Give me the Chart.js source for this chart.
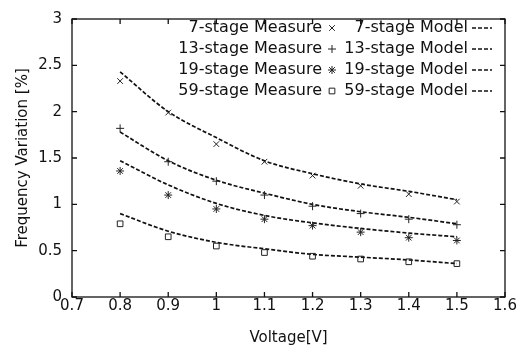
<!DOCTYPE html>
<html>
<head>
<meta charset="utf-8">
<script src="https://cdn.jsdelivr.net/npm/chart.js@4.4.0/dist/chart.umd.min.js"></script>
<style>
  html, body { margin: 0; padding: 0; background: #fff; }
  #wrap { width: 523px; height: 351px; }
</style>
</head>
<body>
<div id="wrap"><canvas id="myChart" width="523" height="351"></canvas></div>
<script>
var voltage = [0.8, 0.9, 1.0, 1.1, 1.2, 1.3, 1.4, 1.5];
var stages = ['7-stage', '13-stage', '19-stage', '59-stage'];
var markers = ['crossRot', 'cross', 'star', 'rect'];

var measure7 = [2.33, 1.99, 1.65, 1.46, 1.31, 1.20, 1.11, 1.03];
var model7 = [2.43, 2.00, 1.72, 1.47, 1.33, 1.22, 1.14, 1.05];
var measure13 = [1.82, 1.46, 1.25, 1.10, 0.98, 0.90, 0.84, 0.78];
var model13 = [1.78, 1.47, 1.26, 1.12, 1.00, 0.92, 0.86, 0.79];
var measure19 = [1.36, 1.10, 0.95, 0.84, 0.77, 0.70, 0.64, 0.61];
var model19 = [1.47, 1.21, 1.01, 0.88, 0.80, 0.74, 0.69, 0.65];
var measure59 = [0.79, 0.65, 0.55, 0.48, 0.44, 0.41, 0.38, 0.36];
var model59 = [0.90, 0.71, 0.59, 0.52, 0.46, 0.43, 0.40, 0.36];

var measures = [measure7, measure13, measure19, measure59];
var models = [model7, model13, model19, model59];

function toXY(vals) {
    return vals.map(function (v, i) { return { x: voltage[i], y: v }; });
}

var datasets = [];
for (var i = 0; i < stages.length; i++) {
    datasets.push({
        label: stages[i] + ' Measure',
        data: toXY(measures[i]),
        showLine: false,
        pointStyle: markers[i],
        pointRadius: 4,
        borderColor: '#222',
        backgroundColor: 'rgba(0,0,0,0)',
        borderWidth: 1
    });
    datasets.push({
        label: stages[i] + ' Model',
        data: toXY(models[i]),
        showLine: true,
        pointRadius: 0,
        borderColor: '#111',
        borderWidth: 1.7,
        borderDash: [4, 2],
        tension: 0.4,
        cubicInterpolationMode: 'monotone',
        fill: false
    });
}

var FONT = '"DejaVu Sans", Verdana, sans-serif';

function fmt(v) {
    return String(Math.round(v * 10) / 10);
}

var frame = {
    id: 'frame',
    afterDraw: function (chart) {
        var ctx = chart.ctx, a = chart.chartArea;
        var xs = chart.scales.x, ys = chart.scales.y;
        ctx.save();
        ctx.strokeStyle = '#111';
        ctx.lineWidth = 1.3;
        ctx.strokeRect(a.left, a.top, a.right - a.left, a.bottom - a.top);
        ctx.beginPath();
        xs.ticks.forEach(function (t) {
            var px = xs.getPixelForValue(t.value);
            ctx.moveTo(px, a.bottom); ctx.lineTo(px, a.bottom - 5);
            ctx.moveTo(px, a.top); ctx.lineTo(px, a.top + 5);
        });
        ys.ticks.forEach(function (t) {
            var py = ys.getPixelForValue(t.value);
            ctx.moveTo(a.left, py); ctx.lineTo(a.left + 5, py);
            ctx.moveTo(a.right, py); ctx.lineTo(a.right - 5, py);
        });
        ctx.stroke();

        // legend, gnuplot style
        ctx.font = '16px ' + FONT;
        ctx.textBaseline = 'middle';
        ctx.textAlign = 'right';
        for (var k = 0; k < stages.length; k++) {
            var y = a.top + 9 + k * 21;
            var ms = chart.data.datasets[k * 2];
            var md = chart.data.datasets[k * 2 + 1];
            ctx.fillStyle = '#111';
            ctx.fillText(ms.label, a.left + 250, y);
            ctx.fillStyle = 'rgba(0,0,0,0)';
            ctx.strokeStyle = '#222';
            ctx.lineWidth = 1;
            Chart.helpers.drawPoint(ctx, { pointStyle: markers[k], radius: 4, rotation: 0, borderWidth: 1 }, a.left + 260, y);
            ctx.fillStyle = '#111';
            ctx.fillText(md.label, a.left + 396, y);
            ctx.beginPath();
            ctx.setLineDash([4, 2]);
            ctx.lineWidth = 1.5;
            ctx.strokeStyle = '#111';
            ctx.moveTo(a.left + 400, y);
            ctx.lineTo(a.left + 420, y);
            ctx.stroke();
            ctx.setLineDash([]);
        }
        ctx.restore();
    }
};

new Chart(document.getElementById('myChart').getContext('2d'), {
    type: 'scatter',
    data: { datasets: datasets },
    plugins: [frame],
    options: {
        responsive: false,
        animation: false,
        layout: { padding: { top: 12, right: 18, left: 0, bottom: 0 } },
        plugins: {
            legend: { display: false },
            tooltip: { enabled: false }
        },
        scales: {
            x: {
                type: 'linear',
                min: 0.7,
                max: 1.6,
                ticks: { stepSize: 0.1, color: '#111', font: { family: FONT, size: 15 }, padding: 0, maxRotation: 0, callback: fmt },
                grid: { display: false, drawTicks: false },
                border: { display: false },
                title: { display: true, text: 'Voltage[V]', color: '#111', font: { family: FONT, size: 15 }, padding: { top: 15 } },
                afterFit: function (s) { s.height = 54; }
            },
            y: {
                min: 0,
                max: 3,
                ticks: { stepSize: 0.5, color: '#111', font: { family: FONT, size: 15 }, padding: 10, callback: fmt },
                grid: { display: false, drawTicks: false },
                border: { display: false },
                title: { display: true, text: 'Frequency Variation [%]', color: '#111', font: { family: FONT, size: 15 }, padding: { top: 14, bottom: 0 } },
                afterFit: function (s) { s.width = 72; }
            }
        }
    }
});
</script>
</body>
</html>
